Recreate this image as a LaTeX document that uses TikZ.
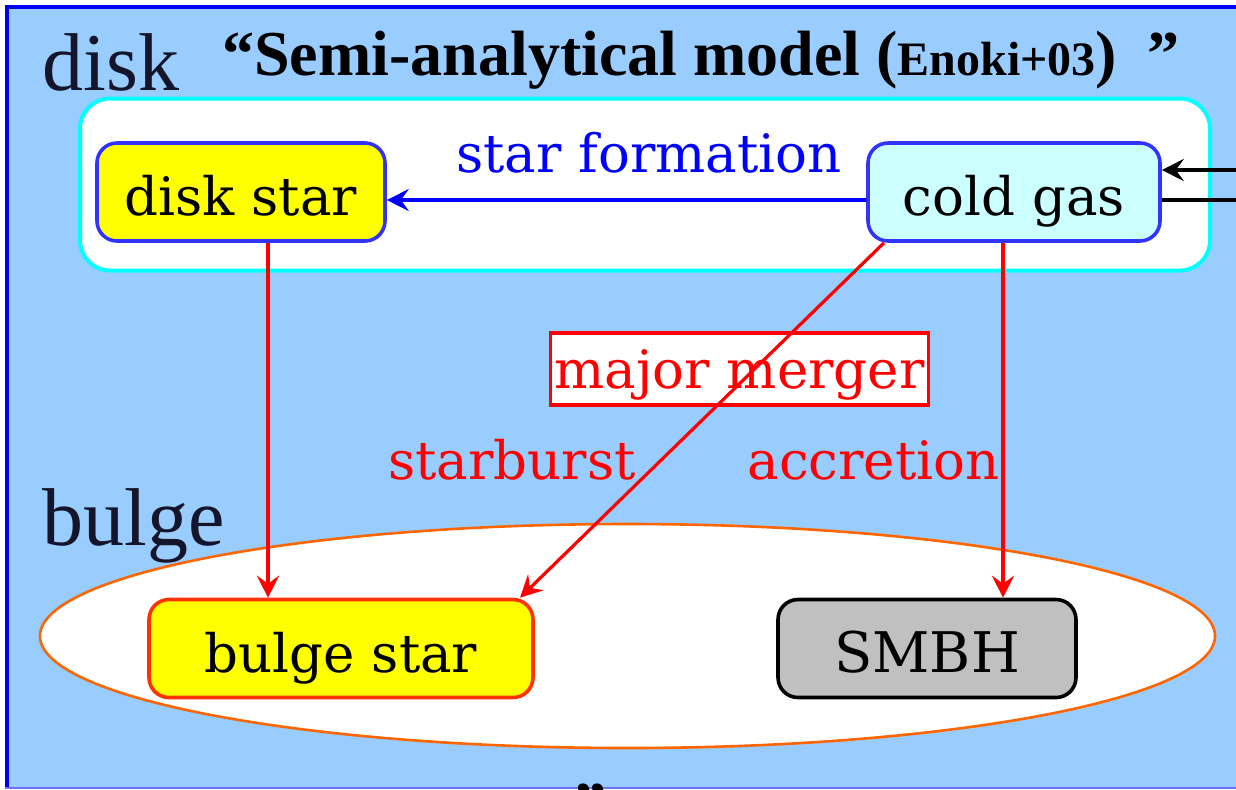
\documentclass[tikz,border=0pt]{standalone}
\usepackage{fontspec}
\setmainfont{Liberation Serif}
\newfontfamily\slabfont{DejaVu Serif}
\newfontfamily\timesfont{Liberation Serif}
\usetikzlibrary{arrows.meta}

\definecolor{skyfill}{RGB}{153,204,255}
\definecolor{frameblue}{RGB}{0,0,240}
\definecolor{boxblue}{RGB}{51,51,255}
\definecolor{arrowblue}{RGB}{0,0,255}
\definecolor{icefill}{RGB}{204,255,255}
\definecolor{aqua}{RGB}{0,255,255}
\definecolor{sunyellow}{RGB}{255,255,0}
\definecolor{flowred}{RGB}{255,0,0}
\definecolor{bulgeedge}{RGB}{255,51,0}
\definecolor{ringorange}{RGB}{255,102,0}
\definecolor{holegray}{RGB}{192,192,192}
\definecolor{inkdark}{RGB}{20,20,42}

\begin{document}
\begin{tikzpicture}[x=0.5pt,y=-0.5pt,
  compbox/.style={rounded corners=10pt, line width=1.8pt, minimum height=49pt,
    inner sep=0pt, text height=23.5pt, text depth=0pt,
    font=\slabfont\fontsize{26.5}{32}\selectfont},
  lab/.style={anchor=base, inner sep=0pt, font=\slabfont\fontsize{26.5}{32}\selectfont},
  biglab/.style={anchor=base west, inner sep=0pt, text=inkdark,
    font=\timesfont\fontsize{41}{46}\selectfont},
  tip/.style={-{Stealth[length=11pt,width=11pt,inset=4pt]}},
  flow/.style={tip, line width=1.6pt},
]
% page area and frame
\clip (0,0) rectangle (1236,789);
\fill[white] (0,0) rectangle (1236,789);
\fill[skyfill] (5,5) rectangle (1240,789);
\draw[frameblue, line width=2pt] (7,789) -- (7,7) -- (1240,7);
\draw[boxblue!70, line width=1pt] (5,788) -- (1240,788);

% title
\node[anchor=base west, inner sep=0pt, font=\timesfont\bfseries\fontsize{32}{36}\selectfont]
  (title) at (222,75) {“Semi-analytical model ({\fontsize{24}{28}\selectfont Enoki+03})\hspace{15pt}”};

% region labels
\node[biglab] (disklab) at (42,90) {disk};
\node[biglab] (bulgelab) at (42,545) {bulge};

% disk region and bulge region
\node[draw=aqua, fill=white, line width=2pt, rounded corners=15pt,
  minimum width=565pt, minimum height=86pt] (diskreg) at (645,184.5) {};
\draw[ringorange, fill=white, line width=1.3pt] (627.5,636) ellipse [x radius=293.75pt, y radius=56pt];

% merger tag
\node[draw=flowred, fill=white, line width=1.6pt, minimum width=189pt, minimum height=36pt,
  inner sep=0pt, text height=19pt, text depth=0pt, text=flowred,
  font=\slabfont\fontsize{26.5}{32}\selectfont] (merge) at (739.5,369) {major merger};

% components
\node[compbox, fill=sunyellow, draw=boxblue, minimum width=144pt] (ds) at (241,192) {disk star};
\node[compbox, fill=icefill, draw=boxblue, minimum width=146pt] (cg) at (1014,192) {cold gas};
\node[compbox, fill=sunyellow, draw=bulgeedge, minimum width=192pt] (bs) at (341,648.5) {bulge star};
\node[compbox, fill=holegray, draw=black, minimum width=149pt,
  font=\slabfont\fontsize{28}{32}\selectfont] (sm) at (927,648.5) {SMBH};

% process labels
\node[lab, text=arrowblue] (sflab) at (649,172) {star formation};
\node[lab, text=flowred] (sblab) at (512,479) {starburst};
\node[lab, text=flowred] (aclab) at (873.5,479) {accretion};

% gas inflow / outflow at the right edge
\coordinate (gasin) at (1236,170);
\coordinate (gasout) at (1236,200);
\draw[flow, black] (gasin) -- (gasin -| cg.east);
\draw[black, line width=1.6pt] ([yshift=-4pt]cg.east) -- (gasout);

% star formation
\draw[flow, arrowblue] ([yshift=-4pt]cg.west) -- ([yshift=-4pt]cg.west -| ds.east);

% merger-driven flows
\draw[flow, flowred] ([xshift=13.5pt]ds.south) -- ([xshift=13.5pt]ds.south |- bs.north);
\draw[flow, flowred] ([xshift=-65pt]cg.south) -- ([xshift=89.5pt]bs.north);
\draw[flow, flowred] ([xshift=-5.5pt]cg.south) -- ([xshift=-5.5pt]cg.south |- sm.north);

% next line of text, running off the lower edge
\node[anchor=base west, inner sep=0pt, font=\timesfont\bfseries\fontsize{32}{36}\selectfont]
  (nextline) at (574,826) {”};
\end{tikzpicture}
\end{document}
